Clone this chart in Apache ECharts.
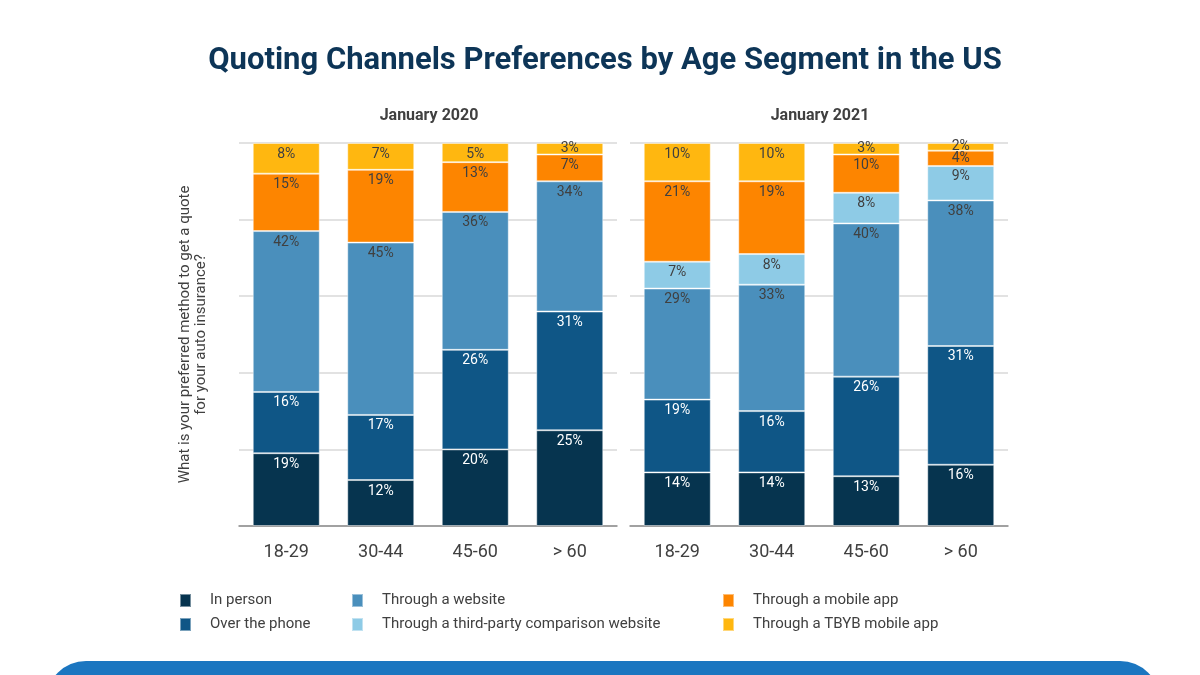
<!DOCTYPE html>
<html>
<head>
<meta charset="utf-8">
<script src="https://cdn.jsdelivr.net/npm/echarts@6/dist/echarts.min.js"></script>
<style>
  html, body { margin: 0; padding: 0; background: #fff; }
  #main { width: 1200px; height: 675px; }
</style>
</head>
<body>
<div id="main"></div>
<script>
const ages = ['18-29', '30-44', '45-60', '> 60'];

// January 2020 (no third-party series)
const inPerson2020 = [19, 12, 20, 25];
const phone2020 = [16, 17, 26, 31];
const website2020 = [42, 45, 36, 34];
const mobileApp2020 = [15, 19, 13, 7];
const tbyb2020 = [8, 7, 5, 3];

// January 2021
const inPerson2021 = [14, 14, 13, 16];
const phone2021 = [19, 16, 26, 31];
const website2021 = [29, 33, 40, 38];
const thirdParty2021 = [7, 8, 8, 9];
const mobileApp2021 = [21, 19, 10, 4];
const tbyb2021 = [10, 10, 3, 2];

const yTicks = [0, 20, 40, 60, 80, 100];

const colors = {
  'In person': '#06344f',
  'Over the phone': '#0f5686',
  'Through a website': '#4a8fbc',
  'Through a third-party comparison website': '#8ecbe6',
  'Through a mobile app': '#fd8500',
  'Through a TBYB mobile app': '#ffb710'
};
const darkOnes = ['In person', 'Over the phone'];

const chart = echarts.init(document.getElementById('main'));

function mkSeries(name, data, idx) {
  return {
    name: name,
    type: 'bar',
    stack: 's' + idx,
    xAxisIndex: idx,
    yAxisIndex: idx,
    barWidth: 67,
    // tiny segments get their label centred, like the original
    data: data.map(v => v <= 4 ? { value: v, label: { position: 'inside' } } : v),
    itemStyle: { color: colors[name], borderColor: 'rgba(255,255,255,0.45)', borderWidth: 1 },
    label: {
      show: true,
      position: 'insideTop',
      distance: 4,
      formatter: '{c}%',
      fontFamily: 'Roboto',
      fontSize: 14,
      color: darkOnes.indexOf(name) >= 0 ? '#ffffff' : '#404040'
    },
    emphasis: { disabled: true }
  };
}

function mkX(idx) {
  return {
    type: 'category',
    gridIndex: idx,
    data: ages,
    axisTick: { show: false },
    axisLine: { lineStyle: { color: '#8c8c8c', width: 1.5 } },
    axisLabel: { color: '#404040', fontSize: 18, fontFamily: 'Roboto', margin: 17 }
  };
}

function mkY(idx) {
  const y = {
    type: 'value',
    gridIndex: idx,
    min: yTicks[0],
    max: yTicks[yTicks.length - 1],
    interval: 20,
    axisLabel: { show: false },
    axisTick: { show: false },
    axisLine: { show: false },
    splitLine: { lineStyle: { color: '#d9d9d9', width: 1.5 } }
  };
  if (idx === 0) {
    y.name = 'What is your preferred method to get a quote\nfor your auto insurance?';
    y.nameLocation = 'middle';
    y.nameRotate = 90;
    y.nameGap = 30;
    y.nameTextStyle = { color: '#404040', fontSize: 15, fontFamily: 'Roboto', lineHeight: 16 };
  }
  return y;
}

function legendCol(left, names) {
  return {
    left: left,
    top: 588,
    orient: 'vertical',
    itemWidth: 11,
    itemHeight: 13,
    itemGap: 9,
    icon: 'rect',
    data: names,
    selectedMode: false,
    textStyle: { color: '#404040', fontSize: 15, fontFamily: 'Roboto', padding: [0, 0, 0, 14] }
  };
}

chart.setOption({
  animation: false,
  title: [
    {
      text: 'Quoting Channels Preferences by Age Segment in the US',
      left: 600, top: 41, textAlign: 'center',
      textStyle: { color: '#0d3557', fontSize: 31, fontWeight: 'bold', fontFamily: 'Roboto' }
    },
    {
      text: 'January 2020', left: 424, top: 103, textAlign: 'center',
      textStyle: { color: '#404040', fontSize: 16, fontWeight: 'bold', fontFamily: 'Roboto' }
    },
    {
      text: 'January 2021', left: 815, top: 103, textAlign: 'center',
      textStyle: { color: '#404040', fontSize: 16, fontWeight: 'bold', fontFamily: 'Roboto' }
    }
  ],
  legend: [
    legendCol(174, ['In person', 'Over the phone']),
    legendCol(346, ['Through a website', 'Through a third-party comparison website']),
    legendCol(717, ['Through a mobile app', 'Through a TBYB mobile app'])
  ],
  grid: [
    { left: 239, width: 378, top: 143, height: 383 },
    { left: 630, width: 378, top: 143, height: 383 }
  ],
  xAxis: [mkX(0), mkX(1)],
  yAxis: [mkY(0), mkY(1)],
  series: [
    mkSeries('In person', inPerson2020, 0),
    mkSeries('Over the phone', phone2020, 0),
    mkSeries('Through a website', website2020, 0),
    mkSeries('Through a mobile app', mobileApp2020, 0),
    mkSeries('Through a TBYB mobile app', tbyb2020, 0),
    mkSeries('In person', inPerson2021, 1),
    mkSeries('Over the phone', phone2021, 1),
    mkSeries('Through a website', website2021, 1),
    mkSeries('Through a third-party comparison website', thirdParty2021, 1),
    mkSeries('Through a mobile app', mobileApp2021, 1),
    mkSeries('Through a TBYB mobile app', tbyb2021, 1)
  ],
  graphic: [
    {
      type: 'rect',
      shape: { x: 46, y: 661, width: 1114, height: 80, r: 40 },
      style: { fill: '#1b76c0' },
      silent: true
    }
  ]
});
</script>
</body>
</html>
